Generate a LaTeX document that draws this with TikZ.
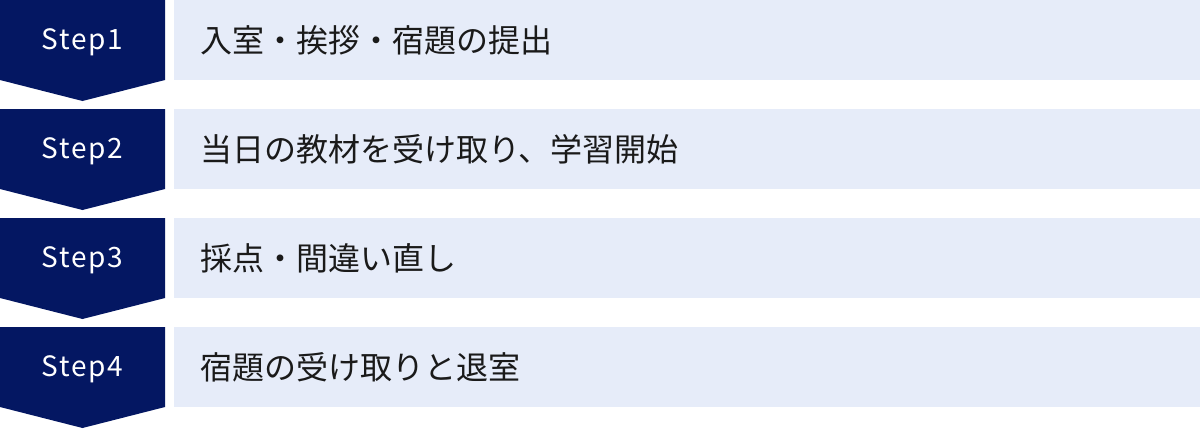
\documentclass[tikz,border=0pt]{standalone}
\usepackage{fontspec}
\setmainfont{Noto Sans CJK JP}
\newfontfamily\jpfont{Noto Sans CJK JP}
\newfontfamily\stepfont[LetterSpace=6]{Noto Sans CJK JP}
\definecolor{stepnavy}{HTML}{041762}
\definecolor{itembg}{HTML}{E6ECF9}
\definecolor{itemtext}{HTML}{1A1A1A}
\tikzset{
  steplabel/.style={text=white, inner sep=0pt, font=\stepfont\fontsize{28}{28}\selectfont},
  itemlabel/.style={text=itemtext, anchor=west, inner sep=0pt, font=\jpfont\fontsize{32}{32}\selectfont}
}
\begin{document}
\begin{tikzpicture}[x=1pt, y=-1pt]
	\useasboundingbox (0,0) rectangle (1200,429);
	% step arrows
	\fill [color=stepnavy] (0,0) -- (165,0) -- (165,80) -- (82.5,101) -- (0,80) -- cycle;
	\fill [color=stepnavy] (0,109) -- (165,109) -- (165,189) -- (82.5,210) -- (0,189) -- cycle;
	\fill [color=stepnavy] (0,218) -- (165,218) -- (165,298) -- (82.5,319) -- (0,298) -- cycle;
	\fill [color=stepnavy] (0,327) -- (165,327) -- (165,407) -- (82.5,428) -- (0,407) -- cycle;
	% item bars
	\fill [color=itembg] (174,0) rectangle (1200,80);
	\fill [color=itembg] (174,109) rectangle (1200,189);
	\fill [color=itembg] (174,218) rectangle (1200,298);
	\fill [color=itembg] (174,327) rectangle (1200,407);
	% labels
	\node [steplabel] (step1) at (82.5,42) {Step1};
	\node [steplabel] (step2) at (82.5,151) {Step2};
	\node [steplabel] (step3) at (82.5,260) {Step3};
	\node [steplabel] (step4) at (82.5,369) {Step4};
	\node [itemlabel] (item1) at (200,40) {入室・挨拶・宿題の提出};
	\node [itemlabel] (item2) at (200,149) {当日の教材を受け取り、学習開始};
	\node [itemlabel] (item3) at (200,258) {採点・間違い直し};
	\node [itemlabel] (item4) at (200,367) {宿題の受け取りと退室};
\end{tikzpicture}
\end{document}
